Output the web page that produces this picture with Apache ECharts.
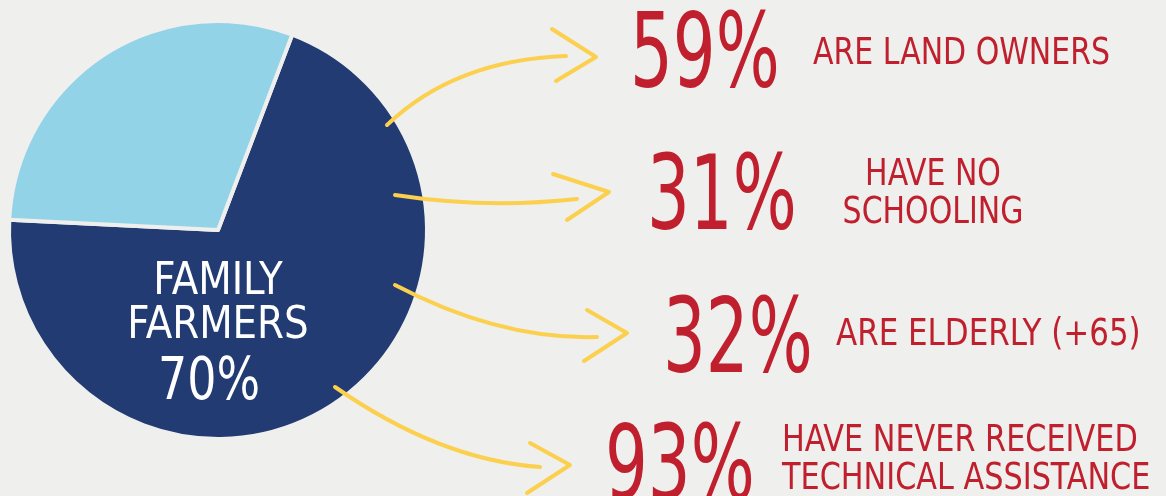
<!DOCTYPE html>
<html>
<head>
<meta charset="utf-8">
<script src="https://cdn.jsdelivr.net/npm/echarts@6/dist/echarts.min.js"></script>
<style>
html,body{margin:0;padding:0;background:#efefed;}
#c{width:1166px;height:496px;}
</style>
</head>
<body>
<div id="c"></div>
<script>
// ---- data ----
const pieCategories = ['Family farmers', 'Other'];
const pieValues = [70, 30];
const pieLabelTitle = 'FAMILY\nFARMERS';
const statValues = [59, 31, 32, 93];
const statLabels = [
  'ARE LAND OWNERS',
  'HAVE NO\nSCHOOLING',
  'ARE ELDERLY (+65)',
  'HAVE NEVER RECEIVED\nTECHNICAL ASSISTANCE'
];

// ---- styles / layout ----
const FONT = '"Liberation Sans Narrow", "DejaVu Sans Condensed", "Liberation Sans", sans-serif';
const RED = '#c0202e';
const YELLOW = '#fcd04f';
const pieColors = ['#223c73', '#92d3e8'];

const bigLayout = [
  {x: 630, y: 60}, {x: 647, y: 202}, {x: 663, y: 345}, {x: 605, y: 472}
];
const smallLayout = [
  {x: 813, y: 54, align: 'left', sx: 0.9},
  {x: 933, y: 194, align: 'center', sx: 0.9},
  {x: 836, y: 335, align: 'left', sx: 0.93},
  {x: 782, y: 460, align: 'left', sx: 0.91}
];
const arrows = [
  {s: [387, 125], c: [455, 60], e: [566, 56], head: [[552, 29], [596, 57], [556, 81]]},
  {s: [395, 195], c: [486, 209], e: [577, 199], head: [[553, 174], [609, 192], [567, 220]]},
  {s: [395, 285], c: [500, 340], e: [597, 337], head: [[587, 310], [627, 333], [584, 361]]},
  {s: [335, 387], c: [440, 460], e: [540, 467], head: [[530, 443], [570, 465], [527, 493]]}
];

const graphics = [];
arrows.forEach(a => {
  graphics.push({
    type: 'bezierCurve', silent: true, z: 10,
    shape: {x1: a.s[0], y1: a.s[1], cpx1: a.c[0], cpy1: a.c[1], x2: a.e[0], y2: a.e[1]},
    style: {stroke: YELLOW, lineWidth: 4, fill: null, lineCap: 'round'}
  });
  graphics.push({
    type: 'polyline', silent: true, z: 10,
    shape: {points: a.head},
    style: {stroke: YELLOW, lineWidth: 4, fill: null, lineCap: 'round', lineJoin: 'round'}
  });
});
statValues.forEach((v, i) => {
  graphics.push({
    type: 'text', silent: true, z: 10,
    x: bigLayout[i].x, y: bigLayout[i].y, scaleX: 0.72,
    style: {text: v + '%', x: 0, y: 0, fill: RED, font: '104px ' + FONT,
            textAlign: 'left', textVerticalAlign: 'middle'}
  });
  graphics.push({
    type: 'text', silent: true, z: 10,
    x: smallLayout[i].x, y: smallLayout[i].y, scaleX: smallLayout[i].sx,
    style: {text: statLabels[i], x: 0, y: 0, fill: RED, font: '37px ' + FONT,
            lineHeight: 38, textAlign: smallLayout[i].align, textVerticalAlign: 'middle'}
  });
});
graphics.push({
  type: 'text', silent: true, z: 10, x: 218, y: 305, scaleX: 0.98,
  style: {text: pieLabelTitle, x: 0, y: 0, fill: '#ffffff', font: '44px ' + FONT,
          lineHeight: 44, textAlign: 'center', textVerticalAlign: 'middle'}
});
graphics.push({
  type: 'text', silent: true, z: 10, x: 209, y: 384, scaleX: 0.88,
  style: {text: pieValues[0] + '%', x: 0, y: 0, fill: '#ffffff', font: '58px ' + FONT,
          textAlign: 'center', textVerticalAlign: 'middle'}
});

const chart = echarts.init(document.getElementById('c'), null, {renderer: 'canvas'});
chart.setOption({
  backgroundColor: '#efefed',
  animation: false,
  series: [{
    type: 'pie',
    center: [218, 230],
    radius: 209,
    startAngle: 69.2,
    clockwise: true,
    silent: true,
    z: 2,
    label: {show: false},
    labelLine: {show: false},
    itemStyle: {borderColor: '#efefed', borderWidth: 4},
    data: pieCategories.map((n, i) => ({name: n, value: pieValues[i], itemStyle: {color: pieColors[i]}}))
  }],
  graphic: graphics
});
</script>
</body>
</html>
